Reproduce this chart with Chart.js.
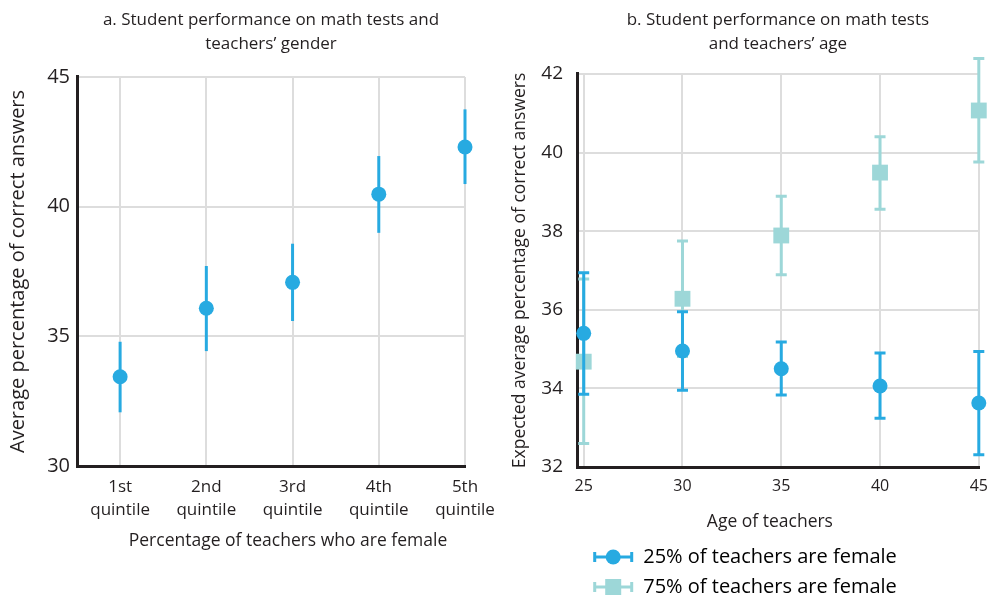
<!DOCTYPE html>
<html>
<head>
<meta charset="utf-8">
<script src="https://cdn.jsdelivr.net/npm/chart.js@4.4.0/dist/chart.umd.min.js"></script>
<style>
html,body{margin:0;padding:0;background:#ffffff;}
#wrap{position:relative;width:990px;height:596px;overflow:hidden;}
#c1{position:absolute;left:0;top:0;}
#c2{position:absolute;left:500px;top:0;}
</style>
</head>
<body>
<div id="wrap">
<canvas id="c1" width="500" height="596"></canvas>
<canvas id="c2" width="490" height="607"></canvas>
</div>
<script>
// ---------- Data ----------
const quintiles = [1, 2, 3, 4, 5];
const quintileLabels = [["1st", "quintile"], ["2nd", "quintile"], ["3rd", "quintile"], ["4th", "quintile"], ["5th", "quintile"]];
const genderMean = [33.44, 36.08, 37.08, 40.48, 42.30];
const genderLow  = [32.07, 34.43, 35.59, 38.99, 40.87];
const genderHigh = [34.79, 37.71, 38.57, 41.95, 43.75];

const ages = [25, 30, 35, 40, 45];
const female25Mean = [35.40, 34.95, 34.50, 34.06, 33.63];
const female25Low  = [33.85, 33.95, 33.83, 33.24, 32.31];
const female25High = [36.94, 35.95, 35.18, 34.90, 34.94];
const female75Mean = [34.68, 36.28, 37.89, 39.49, 41.07];
const female75Low  = [32.60, 34.81, 36.89, 38.56, 39.76];
const female75High = [36.78, 37.75, 38.89, 40.40, 42.39];

const seriesNames = ["25% of teachers are female", "75% of teachers are female"];

// ---------- Styles ----------
const DARK = '#27aae1';
const LIGHT = '#9dd7d8';
const GRID = '#dddddd';
const AXIS = '#231f20';
const TEXT = '#231f20';
Chart.defaults.font.family = '"Open Sans", Lato, sans-serif';
Chart.defaults.color = TEXT;

// error bars drawn under each dataset's markers
const errorBarPlugin = {
  id: 'errorBars',
  beforeDatasetDraw(chart, args) {
    const ds = chart.data.datasets[args.index];
    if (!ds.errLow) return;
    const xs = chart.scales.x, ys = chart.scales.y, ctx = chart.ctx;
    ctx.save();
    ctx.strokeStyle = ds.errColor;
    ctx.lineWidth = ds.errWidth;
    ctx.lineCap = 'butt';
    ds.data.forEach((p, i) => {
      const x = xs.getPixelForValue(p.x);
      const y1 = ys.getPixelForValue(ds.errLow[i]);
      const y2 = ys.getPixelForValue(ds.errHigh[i]);
      ctx.beginPath();
      ctx.moveTo(x, y1); ctx.lineTo(x, y2);
      if (ds.capWidth) {
        const h = ds.capWidth / 2;
        ctx.moveTo(x - h, y1); ctx.lineTo(x + h, y1);
        ctx.moveTo(x - h, y2); ctx.lineTo(x + h, y2);
      }
      ctx.stroke();
    });
    ctx.restore();
  }
};

// shift the x-axis title horizontally
const xTitleShift = {
  id: 'xTitleShift',
  afterLayout(chart, args, opts) {
    const s = chart.scales.x;
    if (s.__shifted) return;
    s.__shifted = true;
    const orig = s.drawTitle;
    s.drawTitle = function () {
      const l = this.left, r = this.right;
      this.left = l + opts.offset; this.right = r + opts.offset;
      orig.call(this);
      this.left = l; this.right = r;
    };
  }
};

// legend symbols: line with caps and marker
const legendSymbols = {
  id: 'legendSymbols',
  afterDraw(chart) {
    const lg = chart.legend;
    if (!lg || !lg.legendHitBoxes) return;
    const ctx = chart.ctx;
    lg.legendHitBoxes.forEach((hb, i) => {
      const ds = chart.data.datasets[i];
      const bw = lg.options.labels.boxWidth;
      const x0 = hb.left, x1 = hb.left + bw, cy = hb.top + hb.height / 2;
      ctx.save();
      ctx.strokeStyle = ds.errColor;
      ctx.lineWidth = 3;
      ctx.beginPath();
      ctx.moveTo(x0, cy); ctx.lineTo(x1, cy);
      ctx.moveTo(x0 + 1.5, cy - 5); ctx.lineTo(x0 + 1.5, cy + 5);
      ctx.moveTo(x1 - 1.5, cy - 5); ctx.lineTo(x1 - 1.5, cy + 5);
      ctx.stroke();
      ctx.fillStyle = ds.backgroundColor;
      const cx = (x0 + x1) / 2;
      if (ds.pointStyle === 'rect') {
        ctx.fillRect(cx - 8, cy - 8, 16, 16);
      } else {
        ctx.beginPath(); ctx.arc(cx, cy, 7.5, 0, Math.PI * 2); ctx.fill();
      }
      ctx.restore();
    });
  }
};

const gridOpts = { color: GRID, lineWidth: 2, drawTicks: false };
const xGridOpts = { color: GRID, lineWidth: 2, drawTicks: true, tickLength: 9, tickColor: 'rgba(0,0,0,0)' };
const borderOpts = { color: AXIS, width: 3 };

// ---------- Chart a ----------
new Chart(document.getElementById('c1'), {
  type: 'scatter',
  data: {
    datasets: [{
      label: 'Average percentage of correct answers',
      data: quintiles.map((q, i) => ({ x: q, y: genderMean[i] })),
      backgroundColor: DARK, borderWidth: 0,
      pointRadius: 7.5, pointHoverRadius: 7.5,
      errLow: genderLow, errHigh: genderHigh, errColor: DARK, errWidth: 3, capWidth: 0,
      clip: false
    }]
  },
  options: {
    responsive: false, animation: false, events: [],
    layout: { padding: { left: 0, right: 35, top: 0, bottom: 0 } },
    plugins: {
      legend: { display: false },
      tooltip: { enabled: false },
      title: {
        display: true, fullSize: false,
        text: ['a. Student performance on math tests and', 'teachers\u2019 gender'],
        font: { size: 17, lineHeight: 1.41, weight: 'normal' }, color: TEXT,
        padding: { top: 8, bottom: 21 }
      },
      xTitleShift: { offset: 17 }
    },
    scales: {
      x: {
        type: 'linear', min: 0.5, max: 5,
        afterBuildTicks: s => { s.ticks = quintiles.map(v => ({ value: v })); },
        afterFit: s => { s.height = 130; },
        ticks: { callback: (v, i) => quintileLabels[i], font: { size: 17, lineHeight: 1.35 }, padding: 0.5, color: TEXT, maxRotation: 0, autoSkip: false },
        grid: xGridOpts, border: borderOpts,
        title: { display: true, text: 'Percentage of teachers who are female', font: { size: 17.5 }, color: TEXT, padding: { top: 0, bottom: 44.5 } }
      },
      y: {
        min: 30, max: 45,
        afterFit: s => { s.width = 77; },
        ticks: { stepSize: 5, font: { size: 20 }, padding: 7, color: TEXT },
        grid: gridOpts, border: borderOpts,
        title: { display: true, text: 'Average percentage of correct answers', font: { size: 20 }, color: TEXT, padding: { top: 6, bottom: 0 } }
      }
    }
  },
  plugins: [errorBarPlugin, xTitleShift]
});

// ---------- Chart b ----------
new Chart(document.getElementById('c2'), {
  type: 'scatter',
  data: {
    datasets: [{
      label: seriesNames[0],
      data: ages.map((a, i) => ({ x: a, y: female25Mean[i] })),
      backgroundColor: DARK, borderWidth: 0, pointStyle: 'circle',
      pointRadius: 7.5, pointHoverRadius: 7.5,
      errLow: female25Low, errHigh: female25High, errColor: DARK, errWidth: 3, capWidth: 11,
      clip: false, order: 0
    }, {
      label: seriesNames[1],
      data: ages.map((a, i) => ({ x: a, y: female75Mean[i] })),
      backgroundColor: LIGHT, borderWidth: 0, pointStyle: 'rect',
      pointRadius: 11.2, pointHoverRadius: 11.2,
      errLow: female75Low, errHigh: female75High, errColor: LIGHT, errWidth: 3, capWidth: 11,
      clip: false, order: 1
    }]
  },
  options: {
    responsive: false, animation: false, events: [],
    layout: { padding: { left: 0, right: 0, top: 0, bottom: 0 } },
    plugins: {
      tooltip: { enabled: false },
      title: {
        display: true, fullSize: false,
        text: ['b. Student performance on math tests', 'and teachers\u2019 age'],
        font: { size: 17, lineHeight: 1.41, weight: 'normal' }, color: TEXT,
        padding: { top: 8, bottom: 18 }
      },
      legend: {
        display: true, position: 'bottom', align: 'center',
        labels: {
          boxWidth: 40, boxHeight: 12, padding: 10, color: TEXT,
          font: { size: 20 },
          generateLabels: chart => chart.data.datasets.map((d, i) => ({
            text: d.label, fillStyle: 'rgba(0,0,0,0)', strokeStyle: 'rgba(0,0,0,0)',
            lineWidth: 0, hidden: false, datasetIndex: i
          }))
        }
      },
      xTitleShift: { offset: -8 }
    },
    scales: {
      x: {
        type: 'linear', min: 24.66, max: 45,
        afterBuildTicks: s => { s.ticks = ages.map(v => ({ value: v })); },
        afterFit: s => { s.height = 70; },
        ticks: { font: { size: 16 }, padding: 1, color: TEXT, maxRotation: 0, autoSkip: false },
        grid: xGridOpts, border: borderOpts,
        title: { display: true, text: 'Age of teachers', font: { size: 17.5 }, color: TEXT, padding: { top: 0, bottom: 4 } }
      },
      y: {
        min: 32, max: 42,
        afterFit: s => { s.width = 77; },
        ticks: { stepSize: 2, font: { size: 19 }, padding: 14, color: TEXT },
        grid: gridOpts, border: borderOpts,
        title: { display: true, text: 'Expected average percentage of correct answers', font: { size: 17.5 }, color: TEXT, padding: { top: 9.5, bottom: 0 } }
      }
    }
  },
  plugins: [errorBarPlugin, xTitleShift, legendSymbols]
});
</script>
</body>
</html>
